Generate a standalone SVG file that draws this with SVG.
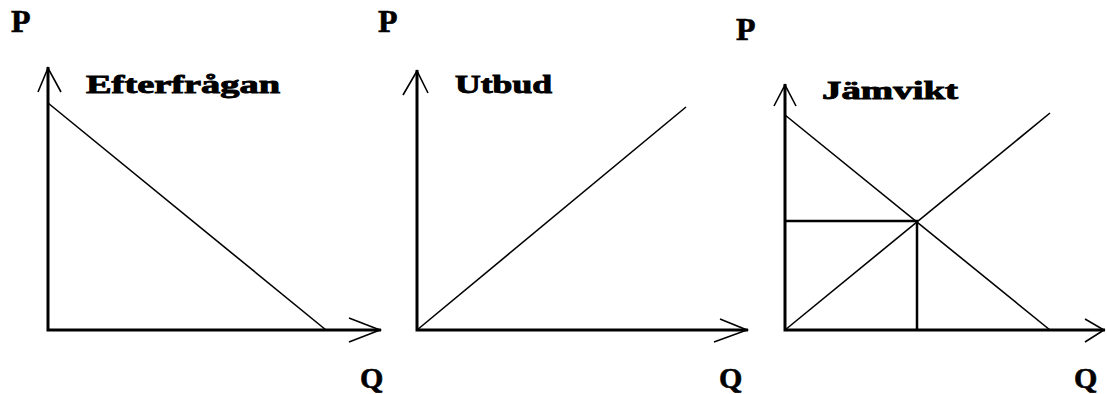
<svg xmlns="http://www.w3.org/2000/svg" width="1107" height="394" viewBox="0 0 1107 394">
<style>
.bg{fill:#fff}
.axis{stroke:#000;stroke-width:3;fill:none}
.tick{stroke:#000;stroke-width:1.6;fill:none}
.curve{stroke:#000;stroke-width:1.6;fill:none}
.eq{stroke:#000;stroke-width:2.5;fill:none}
.ax{font-family:"Liberation Serif","Times New Roman",serif;font-weight:bold;fill:#000;stroke:#000;stroke-width:0.6}
.ttl{font-family:"Liberation Serif","Times New Roman",serif;font-weight:bold;fill:#000;stroke:#000;stroke-width:0.9;font-size:25px}
</style>
<rect class="bg" x="0" y="0" width="1107" height="394"/>
<g id="panel-efterfragan">
  <text class="ax" x="11" y="32" font-size="32">P</text>
  <text class="ttl" x="86" y="93" textLength="194" lengthAdjust="spacingAndGlyphs">Efterfrågan</text>
  <text class="ax" x="360" y="388" font-size="30">Q</text>
</g>
<g id="panel-utbud">
  <text class="ax" x="378" y="32" font-size="32">P</text>
  <text class="ttl" x="455" y="93" textLength="97" lengthAdjust="spacingAndGlyphs">Utbud</text>
  <text class="ax" x="719" y="388" font-size="30">Q</text>
</g>
<g id="panel-jamvikt">
  <text class="ax" x="736" y="40" font-size="32">P</text>
  <text class="ttl" x="822" y="99" textLength="136" lengthAdjust="spacingAndGlyphs">Jämvikt</text>
  <text class="ax" x="1074" y="388" font-size="30">Q</text>
</g>
<g id="connectors">
  <!-- panel 1 -->
  <polyline class="axis" points="48,67 48,330 381,330"/>
  <polyline class="tick" points="38,92 48,68 61,92"/>
  <polyline class="tick" points="349,318 380,330 349,342"/>
  <line class="curve" x1="48" y1="103" x2="326" y2="330"/>
  <!-- panel 2 -->
  <polyline class="axis" points="417,70 417,330 748,330"/>
  <polyline class="tick" points="403,95 417,71 428,93"/>
  <polyline class="tick" points="720,319 747,330 714,342"/>
  <line class="curve" x1="417" y1="330" x2="686" y2="107"/>
  <!-- panel 3 -->
  <polyline class="axis" points="785,84 785,330 1105,330"/>
  <polyline class="tick" points="774,106 785,85 796,106"/>
  <polyline class="tick" points="1085,319 1104,330 1085,342"/>
  <line class="curve" x1="785" y1="115" x2="1050" y2="330"/>
  <line class="curve" x1="785" y1="330" x2="1050" y2="113"/>
  <polyline class="eq" points="785,221 917,221 917,330"/>
</g>
</svg>
